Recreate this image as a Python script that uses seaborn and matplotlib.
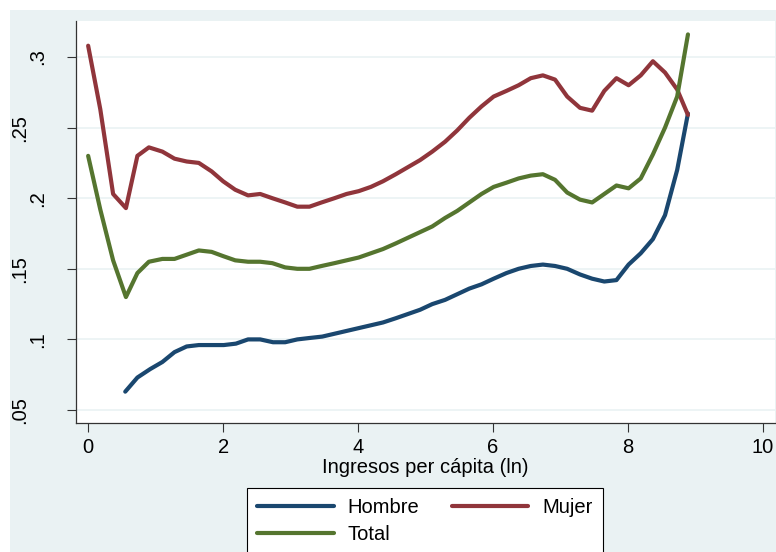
import pandas as pd
import matplotlib.pyplot as plt
import seaborn as sns
from matplotlib.patches import Rectangle
from matplotlib.ticker import FixedLocator, FixedFormatter

# log per-capita income and the share
x_mujer = [0.00, 0.18, 0.37, 0.56, 0.73, 0.90, 1.10, 1.28, 1.46, 1.64, 1.83, 2.00, 2.18, 2.37,
           2.55, 2.73, 2.92, 3.10, 3.28, 3.46, 3.65, 3.83, 4.01, 4.19, 4.37, 4.56, 4.74, 4.92,
           5.10, 5.29, 5.47, 5.65, 5.83, 6.01, 6.20, 6.38, 6.56, 6.74, 6.92, 7.10, 7.29, 7.47,
           7.65, 7.83, 8.01, 8.19, 8.37, 8.55, 8.73, 8.89]
y_mujer = [0.308, 0.263, 0.203, 0.193, 0.230, 0.236, 0.233, 0.228, 0.226, 0.225, 0.219, 0.212,
           0.206, 0.202, 0.203, 0.200, 0.197, 0.194, 0.194, 0.197, 0.200, 0.203, 0.205, 0.208,
           0.212, 0.217, 0.222, 0.227, 0.233, 0.240, 0.248, 0.257, 0.265, 0.272, 0.276, 0.280,
           0.285, 0.287, 0.284, 0.272, 0.264, 0.262, 0.276, 0.285, 0.280, 0.287, 0.297, 0.289,
           0.277, 0.259]

x_total = x_mujer
y_total = [0.230, 0.192, 0.156, 0.130, 0.147, 0.155, 0.157, 0.157, 0.160, 0.163, 0.162, 0.159,
           0.156, 0.155, 0.155, 0.154, 0.151, 0.150, 0.150, 0.152, 0.154, 0.156, 0.158, 0.161,
           0.164, 0.168, 0.172, 0.176, 0.180, 0.186, 0.191, 0.197, 0.203, 0.208, 0.211, 0.214,
           0.216, 0.217, 0.213, 0.204, 0.199, 0.197, 0.203, 0.209, 0.207, 0.214, 0.231, 0.250,
           0.272, 0.316]

x_hombre = [0.55, 0.73, 0.92, 1.10, 1.28, 1.46, 1.64, 1.83, 2.01, 2.19, 2.37, 2.55, 2.74, 2.92,
            3.10, 3.28, 3.47, 3.65, 3.83, 4.01, 4.19, 4.37, 4.56, 4.74, 4.92, 5.10, 5.29, 5.47,
            5.65, 5.83, 6.01, 6.20, 6.38, 6.56, 6.74, 6.92, 7.10, 7.29, 7.47, 7.65, 7.83, 8.01,
            8.19, 8.37, 8.55, 8.73, 8.89]
y_hombre = [0.063, 0.073, 0.079, 0.084, 0.091, 0.095, 0.096, 0.096, 0.096, 0.097, 0.100, 0.100,
            0.098, 0.098, 0.100, 0.101, 0.102, 0.104, 0.106, 0.108, 0.110, 0.112, 0.115, 0.118,
            0.121, 0.125, 0.128, 0.132, 0.136, 0.139, 0.143, 0.147, 0.150, 0.152, 0.153, 0.152,
            0.150, 0.146, 0.143, 0.141, 0.142, 0.153, 0.161, 0.171, 0.188, 0.220, 0.260]

# Stata staggers the y labels: these sit close to the axis ...
y_ticks_near = [0.1, 0.2, 0.3]
y_labels_near = [".1", ".2", ".3"]
# ... and these one step further out
y_ticks_far = [0.05, 0.15, 0.25]
y_labels_far = [".05", ".15", ".25"]

df = pd.concat([
    pd.DataFrame({"x": x_hombre, "y": y_hombre, "grupo": "Hombre"}),
    pd.DataFrame({"x": x_mujer, "y": y_mujer, "grupo": "Mujer"}),
    pd.DataFrame({"x": x_total, "y": y_total, "grupo": "Total"}),
])

sns.set_style("white")
plt.rcParams["font.family"] = ["Liberation Sans", "DejaVu Sans"]
plt.rcParams["text.color"] = "black"
plt.rcParams["xtick.color"] = "black"
plt.rcParams["ytick.color"] = "black"
plt.rcParams["axes.labelcolor"] = "black"

FS = 14.5
W, H = 776, 552
fig = plt.figure(figsize=(W / 100, H / 100), dpi=100, facecolor="white")
fig.patches.append(Rectangle((10 / W, 0), 1 - 10 / W, 1 - 10 / H, transform=fig.transFigure,
                             facecolor="#EAF2F3", edgecolor="none", zorder=-10))

ax = fig.add_axes([76 / W, (H - 423) / H, (775 - 76) / W, (423 - 21) / H])
ax.set_facecolor("white")

palette = {"Hombre": "#1A476F", "Mujer": "#90353B", "Total": "#55752F"}
sns.lineplot(data=df, x="x", y="y", hue="grupo", palette=palette, linewidth=3,
             ax=ax, legend=False, sort=False)

ax.set_xlim(-0.18, 10.18)
ax.set_ylim(0.0408, 0.3255)
ax.set_xticks([0, 2, 4, 6, 8, 10])
ax.yaxis.set_major_locator(FixedLocator(y_ticks_near))
ax.yaxis.set_major_formatter(FixedFormatter(y_labels_near))
ax.yaxis.set_minor_locator(FixedLocator(y_ticks_far))
ax.yaxis.set_minor_formatter(FixedFormatter(y_labels_far))
for lab in ax.get_yticklabels(which="both"):
    lab.set_rotation(90)
    lab.set_va("center")

ax.tick_params(axis="both", which="both", labelsize=FS, length=6.5, width=0.8,
               color="#333333", direction="out", left=True, bottom=True)
ax.tick_params(axis="y", which="major", pad=14)
ax.tick_params(axis="y", which="minor", pad=27)
ax.tick_params(axis="x", pad=4)
ax.yaxis.grid(True, which="both", color="#EAF2F3", linewidth=1.2)
ax.xaxis.grid(False)
for side in ["top", "right"]:
    ax.spines[side].set_visible(False)
for side in ["left", "bottom"]:
    ax.spines[side].set_color("#333333")
    ax.spines[side].set_linewidth(0.9)

ax.set_xlabel("Ingresos per cápita (ln)", fontsize=FS, labelpad=1)
ax.set_ylabel("")

# ncol=2 fills by column, so order gives Hombre | Mujer on the first row
order = ["Hombre", "Total", "Mujer"]
handles = [plt.Line2D([], [], color=palette[k], linewidth=3) for k in order]
leg = fig.legend(handles, order, loc="upper center",
                 bbox_to_anchor=(425 / W, 1 - 488 / H), ncol=2, fontsize=FS,
                 frameon=True, fancybox=False, edgecolor="black", framealpha=1,
                 handlelength=3.8, handletextpad=0.7, columnspacing=1.6,
                 borderpad=0.5, labelspacing=0.4, borderaxespad=0)
leg.get_frame().set_linewidth(0.8)

fig.savefig("out.png", dpi=100, facecolor=fig.get_facecolor())
